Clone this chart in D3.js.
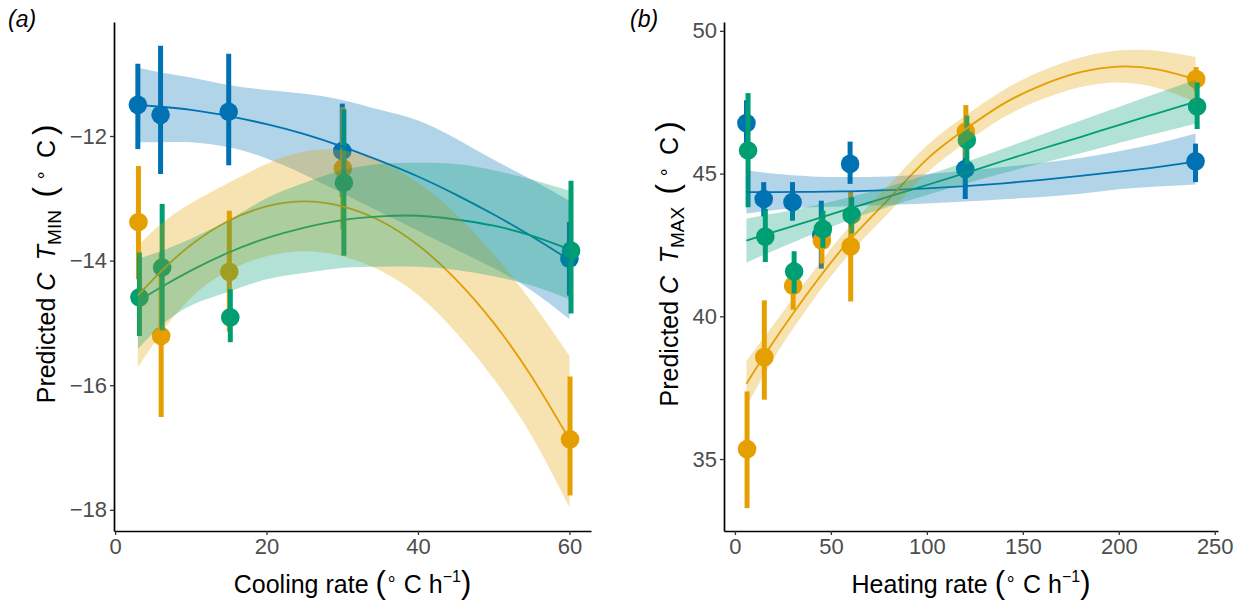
<!DOCTYPE html>
<html>
<head>
<meta charset="utf-8">
<script src="https://cdn.jsdelivr.net/npm/d3@7"></script>
<style>
  html, body { margin: 0; padding: 0; background: #fff; }
  svg { display: block; font-family: "Liberation Sans", Arial, sans-serif; }
</style>
</head>
<body>
<svg id="chart" width="1244" height="610"></svg>
<script>
// colours: blue, orange, green
const groupColors = ['#0072B2', '#E69F00', '#009E73'];

// ---------- (a) cooling rate ----------
const coolRates = [3, 6, 15, 30, 60];
const coolBlueMean = [-11.50, -11.66, -11.61, -12.24, -13.97];
const coolBlueLo = [-12.21, -12.61, -12.47, -12.98, -14.56];
const coolBlueHi = [-10.84, -10.55, -10.68, -11.48, -13.38];
const coolOrangeMean = [-13.38, -15.21, -14.18, -12.52, -16.87];
const coolOrangeLo = [-14.30, -16.51, -15.14, -13.50, -17.77];
const coolOrangeHi = [-12.48, -13.88, -13.20, -11.54, -15.86];
const coolGreenMean = [-14.59, -14.11, -14.91, -12.75, -13.84];
const coolGreenLo = [-15.21, -15.12, -15.31, -13.92, -14.85];
const coolGreenHi = [-13.87, -13.09, -14.46, -11.57, -12.72];

// fitted curves (a)
const coolFitX = [3, 6, 10, 15, 20, 25, 30, 35, 40, 45, 50, 55, 60];
const coolBlueFit = [-11.50, -11.53, -11.58, -11.68, -11.81, -11.97, -12.17, -12.40, -12.65, -12.94, -13.26, -13.61, -13.99];
const coolBlueFitHi = [-10.90, -10.98, -11.06, -11.18, -11.26, -11.32, -11.42, -11.58, -11.75, -12.04, -12.38, -12.70, -13.04];
const coolBlueFitLo = [-12.10, -12.10, -12.10, -12.18, -12.36, -12.62, -12.92, -13.22, -13.52, -13.82, -14.12, -14.48, -14.94];
const coolOrangeFit = [-14.56, -14.18, -13.75, -13.36, -13.13, -13.05, -13.13, -13.36, -13.75, -14.30, -15.00, -15.86, -16.87];
const coolOrangeFitHi = [-13.76, -13.42, -13.08, -12.75, -12.45, -12.25, -12.23, -12.41, -12.75, -13.25, -13.90, -14.66, -15.53];
const coolOrangeFitLo = [-15.71, -15.18, -14.60, -14.16, -13.93, -13.85, -13.93, -14.16, -14.55, -15.15, -15.90, -16.81, -17.96];
const coolGreenFit = [-14.65, -14.43, -14.16, -13.87, -13.64, -13.47, -13.35, -13.29, -13.28, -13.34, -13.44, -13.60, -13.82];
const coolGreenFitHi = [-13.97, -13.85, -13.65, -13.35, -13.00, -12.75, -12.55, -12.45, -12.43, -12.45, -12.55, -12.70, -12.88];
const coolGreenFitLo = [-15.42, -15.05, -14.72, -14.50, -14.30, -14.20, -14.12, -14.10, -14.10, -14.15, -14.25, -14.40, -14.62];

// ---------- (b) heating rate ----------
const heatRates = [6, 15, 30, 45, 60, 120, 240];
const heatBlueMean = [46.77, 44.11, 44.00, 42.85, 45.34, 45.16, 45.43];
const heatBlueLo = [45.97, 43.50, 43.35, 41.67, 44.64, 44.11, 44.70];
const heatBlueHi = [47.57, 44.70, 44.70, 44.05, 46.12, 46.20, 46.05];
const heatOrangeMean = [35.35, 38.57, 41.07, 42.65, 42.45, 46.47, 48.31];
const heatOrangeLo = [33.28, 37.08, 40.23, 41.85, 40.52, 45.55, 47.88];
const heatOrangeHi = [37.37, 40.56, 41.90, 43.45, 44.38, 47.40, 48.73];
const heatGreenMean = [45.81, 42.79, 41.57, 43.06, 43.55, 46.18, 47.35];
const heatGreenLo = [43.82, 41.90, 40.80, 42.40, 42.90, 45.33, 46.56];
const heatGreenHi = [47.82, 43.76, 42.28, 43.70, 44.17, 47.03, 48.19];

// fitted curves (b)
const heatFitX = [6, 20, 40, 60, 80, 100, 120, 140, 160, 180, 200, 220, 240];
const heatBlueFit = [44.35, 44.35, 44.36, 44.38, 44.42, 44.48, 44.56, 44.66, 44.78, 44.92, 45.07, 45.23, 45.42];
const heatBlueFitHi = [45.12, 45.00, 44.90, 44.88, 44.90, 44.98, 45.10, 45.23, 45.38, 45.55, 45.78, 46.05, 46.40];
const heatBlueFitLo = [43.60, 43.72, 43.82, 43.86, 43.90, 43.95, 44.02, 44.10, 44.18, 44.29, 44.45, 44.55, 44.62];
const heatOrangeFit = [37.64, 39.10, 41.00, 42.69, 44.10, 45.50, 46.55, 47.45, 48.10, 48.55, 48.75, 48.65, 48.30];
const heatOrangeFitHi = [38.44, 39.70, 41.50, 43.17, 44.58, 45.98, 47.03, 47.93, 48.60, 49.07, 49.31, 49.30, 49.08];
const heatOrangeFitLo = [36.84, 38.50, 40.50, 42.21, 43.62, 45.02, 46.07, 46.97, 47.60, 48.03, 48.19, 48.00, 47.52];
const heatGreenFit = [42.65, 42.95, 43.36, 43.78, 44.19, 44.60, 45.02, 45.45, 45.87, 46.28, 46.70, 47.11, 47.52];
const heatGreenFitHi = [43.42, 43.60, 43.86, 44.18, 44.54, 44.95, 45.40, 45.88, 46.37, 46.85, 47.33, 47.81, 48.29];
const heatGreenFitLo = [41.88, 42.30, 42.86, 43.38, 43.84, 44.25, 44.64, 45.02, 45.37, 45.71, 46.07, 46.41, 46.75];

// tick labels
const coolXTicks = [0, 20, 40, 60];
const coolYTicks = [-18, -16, -14, -12];
const heatXTicks = [0, 50, 100, 150, 200, 250];
const heatYTicks = [35, 40, 45, 50];

// ---------- drawing ----------
const svg = d3.select('#chart');
const dodge = [0, 0.6, 1.6];
const ribbonOpacity = 0.3;

const panels = [
    {
        tag: '(a)', tagX: 8,
        left: 114, right: 591, top: 22, bottom: 531,
        xDomain: [-0.15, 62.85], yDomain: [-18.34, -10.17],
        xTicks: coolXTicks, yTicks: coolYTicks,
        rates: coolRates, fitX: coolFitX,
        groups: [
            { mean: coolBlueMean, lo: coolBlueLo, hi: coolBlueHi, fit: coolBlueFit, fitLo: coolBlueFitLo, fitHi: coolBlueFitHi },
            { mean: coolOrangeMean, lo: coolOrangeLo, hi: coolOrangeHi, fit: coolOrangeFit, fitLo: coolOrangeFitLo, fitHi: coolOrangeFitHi },
            { mean: coolGreenMean, lo: coolGreenLo, hi: coolGreenHi, fit: coolGreenFit, fitLo: coolGreenFitLo, fitHi: coolGreenFitHi }
        ],
        xTitle: 'Cooling rate ', yTitleSub: 'MIN', yTitleX: 55
    },
    {
        tag: '(b)', tagX: 630,
        left: 724, right: 1218, top: 22, bottom: 531,
        xDomain: [-5.7, 251.7], yDomain: [32.48, 50.31],
        xTicks: heatXTicks, yTicks: heatYTicks,
        rates: heatRates, fitX: heatFitX,
        groups: [
            { mean: heatBlueMean, lo: heatBlueLo, hi: heatBlueHi, fit: heatBlueFit, fitLo: heatBlueFitLo, fitHi: heatBlueFitHi },
            { mean: heatOrangeMean, lo: heatOrangeLo, hi: heatOrangeHi, fit: heatOrangeFit, fitLo: heatOrangeFitLo, fitHi: heatOrangeFitHi },
            { mean: heatGreenMean, lo: heatGreenLo, hi: heatGreenHi, fit: heatGreenFit, fitLo: heatGreenFitLo, fitHi: heatGreenFitHi }
        ],
        xTitle: 'Heating rate ', yTitleSub: 'MAX', yTitleX: 678
    }
];

const addParts = (text, parts) => {
    parts.forEach(p => {
        text.append('tspan')
            .attr('dy', p.dy || 0)
            .style('font-size', p.fs ? `${p.fs}px` : null)
            .style('font-style', p.it ? 'italic' : null)
            .text(p.t);
    });
};

panels.forEach(p => {
    const x = d3.scaleLinear().domain(p.xDomain).range([p.left, p.right]);
    const y = d3.scaleLinear().domain(p.yDomain).range([p.bottom, p.top]);
    const g = svg.append('g');

    // point ranges
    p.groups.forEach((grp, i) => {
        const pts = p.rates.map((r, j) => ({ r, m: grp.mean[j], lo: grp.lo[j], hi: grp.hi[j] }));
        const pg = g.append('g');
        pg.selectAll('line').data(pts).join('line')
            .attr('x1', d => x(d.r) + dodge[i])
            .attr('x2', d => x(d.r) + dodge[i])
            .attr('y1', d => y(d.lo))
            .attr('y2', d => y(d.hi))
            .attr('stroke', groupColors[i])
            .attr('stroke-width', 5);
        pg.selectAll('circle').data(pts).join('circle')
            .attr('cx', d => x(d.r) + dodge[i])
            .attr('cy', d => y(d.m))
            .attr('r', 9.3)
            .attr('fill', groupColors[i]);
    });

    // fitted lines
    p.groups.forEach((grp, i) => {
        const line = d3.line()
            .x((d, j) => x(p.fitX[j]))
            .y(d => y(d))
            .curve(d3.curveNatural);
        g.append('path')
            .attr('d', line(grp.fit))
            .attr('fill', 'none')
            .attr('stroke', groupColors[i])
            .attr('stroke-width', 1.8);
    });

    // confidence ribbons (drawn on top, translucent)
    p.groups.forEach((grp, i) => {
        const area = d3.area()
            .x((d, j) => x(p.fitX[j]))
            .y0((d, j) => y(grp.fitLo[j]))
            .y1((d, j) => y(grp.fitHi[j]))
            .curve(d3.curveNatural);
        g.append('path')
            .attr('d', area(grp.fit))
            .attr('fill', groupColors[i])
            .attr('fill-opacity', ribbonOpacity);
    });

    // axes
    const xAxis = g.append('g')
        .attr('transform', `translate(0, ${p.bottom})`)
        .call(d3.axisBottom(x).tickValues(p.xTicks).tickSize(4).tickSizeOuter(0).tickPadding(3));
    const yAxis = g.append('g')
        .attr('transform', `translate(${p.left}, 0)`)
        .call(d3.axisLeft(y).tickValues(p.yTicks).tickSize(4).tickSizeOuter(0).tickPadding(3));
    [xAxis, yAxis].forEach(a => {
        a.select('.domain').attr('stroke', '#000').attr('stroke-width', 1.7);
        a.selectAll('.tick line').attr('stroke', '#333').attr('stroke-width', 1.3);
        a.selectAll('.tick text')
            .attr('fill', '#4D4D4D')
            .style('font-size', '22px')
            .style('font-family', '"Liberation Sans", Arial, sans-serif');
    });

    // x title
    const xt = svg.append('text')
        .attr('x', (p.left + p.right) / 2)
        .attr('y', 593)
        .attr('text-anchor', 'middle')
        .attr('fill', '#000')
        .style('font-size', '25px');
    addParts(xt, [
        { t: p.xTitle },
        { t: '(', fs: 31 },
        { t: '\u2218', fs: 18, dy: -9 },
        { t: ' C h', dy: 9 },
        { t: '\u22121', fs: 16, dy: -11 },
        { t: ')', fs: 31, dy: 11 }
    ]);

    // y title
    const yt = svg.append('text')
        .attr('transform', `translate(${p.yTitleX}, 264) rotate(-90)`)
        .attr('text-anchor', 'middle')
        .attr('fill', '#000')
        .style('font-size', '25px');
    addParts(yt, [
        { t: 'Predicted ' },
        { t: 'C\u2002T', it: true },
        { t: p.yTitleSub, fs: 19, dy: 6 },
        { t: '\u2002', dy: -6 },
        { t: '(\u2009', fs: 31 },
        { t: '\u2218', fs: 18, dy: -9 },
        { t: '\u2009 C\u2009', dy: 9 },
        { t: ')', fs: 31 }
    ]);

    // panel tag
    svg.append('text')
        .attr('x', p.tagX)
        .attr('y', 27)
        .style('font-size', '23px')
        .style('font-style', 'italic')
        .text(p.tag);
});
</script>
</body>
</html>
